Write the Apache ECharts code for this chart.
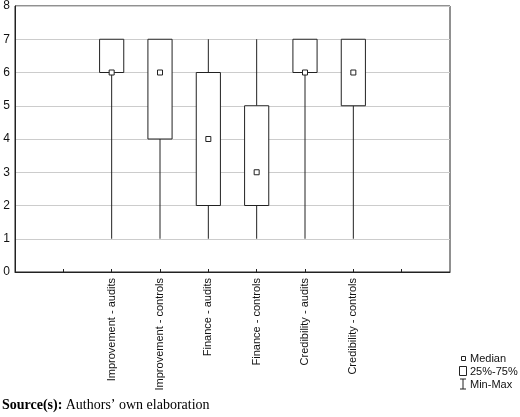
<!DOCTYPE html><html><head><meta charset="utf-8"><script src="https://cdn.jsdelivr.net/npm/echarts@6/dist/echarts.min.js"></script>
<style>body{margin:0;background:#fff}#c{width:520px;height:417px}</style></head><body><div id="c"></div><script>
const categories=['Improvement - audits','Improvement - controls','Finance - audits','Finance - controls','Credibility - audits','Credibility - controls'];
const positions=[2,3,4,5,6,7];
const mins=[1,1,1,1,1,1];
const q1=[6,4,2,2,6,5];
const medians=[6,6,4,3,6,6];
const q3=[7,7,6,5,7,7];
const maxs=[6,7,7,7,6,7];
const yTicks=[0,1,2,3,4,5,6,7,8];
const data=positions.map((p,i)=>[p,mins[i],q1[i],medians[i],q3[i],Math.max(maxs[i],q3[i])]);
const chart=echarts.init(document.getElementById('c'));
chart.setOption({animation:false,
grid:{left:15,right:70,top:6,bottom:145},
xAxis:{type:'value',min:0,max:9,interval:1,splitLine:{show:false},
 axisLine:{lineStyle:{color:'#222'}},axisTick:{inside:true,length:3,lineStyle:{color:'#222'}},
 axisLabel:{rotate:90,color:'#111',fontFamily:'Arial',fontSize:11,margin:6,showMinLabel:false,showMaxLabel:false,
  formatter:v=>{const i=positions.indexOf(v);return i>=0?categories[i]:'';}}},
yAxis:{type:'value',min:0,max:8,interval:1,
 axisLine:{show:true,lineStyle:{color:'#222'}},axisTick:{show:false},
 axisLabel:{color:'#111',fontFamily:'Arial',fontSize:12,margin:5,formatter:v=>yTicks.includes(v)?v:''},
 splitLine:{lineStyle:{color:'#ccc'}}},
series:[{type:'custom',data:data,renderItem:(params,api)=>{
 const x=api.value(0);const w=api.size([1,0])[0]*0.5;
 const pMin=api.coord([x,api.value(1)]),pQ1=api.coord([x,api.value(2)]),pMed=api.coord([x,api.value(3)]),pQ3=api.coord([x,api.value(4)]),pMax=api.coord([x,api.value(5)]);
 const st={stroke:'#222',fill:'none',lineWidth:1};
 return {type:'group',children:[
  {type:'line',shape:{x1:pMin[0],y1:pMin[1],x2:pQ1[0],y2:pQ1[1]},style:st},
  {type:'line',shape:{x1:pQ3[0],y1:pQ3[1],x2:pMax[0],y2:pMax[1]},style:st},
  {type:'rect',shape:{x:pQ3[0]-w/2,y:pQ3[1],width:w,height:pQ1[1]-pQ3[1]},style:{stroke:'#222',fill:'#fff',lineWidth:1}},
  {type:'rect',shape:{x:pMed[0]-2.5,y:pMed[1]-2.5,width:5,height:5},style:{stroke:'#222',fill:'#fff',lineWidth:1}}
 ]};}}],
graphic:[
 {type:'rect',shape:{x:15,y:6,width:435,height:266},style:{stroke:'#222',fill:'none',lineWidth:1},silent:true},
 {type:'rect',shape:{x:461.5,y:356.5,width:4,height:4},style:{stroke:'#222',fill:'#fff'}},
 {type:'text',x:470,y:353,style:{text:'Median',font:'11px Arial',fill:'#111'}},
 {type:'rect',shape:{x:459.5,y:366.5,width:7,height:9},style:{stroke:'#222',fill:'#fff'}},
 {type:'text',x:470,y:366,style:{text:'25%-75%',font:'11px Arial',fill:'#111'}},
 {type:'line',shape:{x1:463,y1:379,x2:463,y2:389},style:{stroke:'#222'}},
 {type:'line',shape:{x1:460,y1:379,x2:466,y2:379},style:{stroke:'#222'}},
 {type:'line',shape:{x1:460,y1:389,x2:466,y2:389},style:{stroke:'#222'}},
 {type:'text',x:470,y:379,style:{text:'Min-Max',font:'11px Arial',fill:'#111'}},
 {type:'text',x:2,y:398,style:{rich:{b:{font:'bold 14px "Liberation Serif"',fill:'#000'},n:{font:'14px "Liberation Serif"',fill:'#000'}},text:'{b|Source(s):} {n|Authors’ own elaboration}'}}
]});
</script></body></html>
